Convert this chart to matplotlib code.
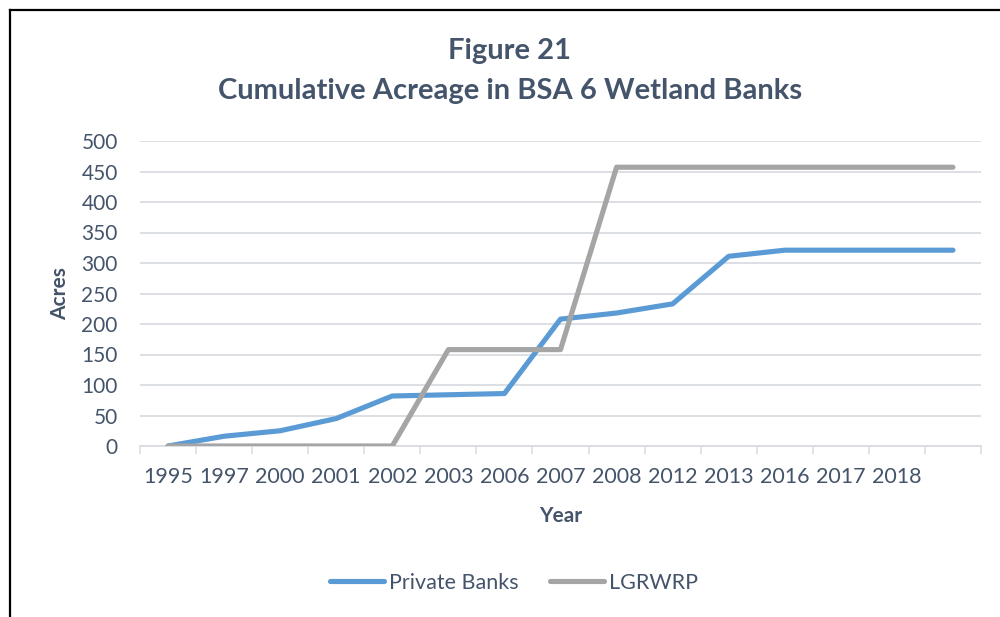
import numpy as np
import matplotlib
matplotlib.use('Agg')
import matplotlib.pyplot as plt
from matplotlib.lines import Line2D

# Cumulative acreage per year (last category has no label)
years = ['1995', '1997', '2000', '2001', '2002', '2003', '2006', '2007',
         '2008', '2012', '2013', '2016', '2017', '2018', '']
private_banks = [0, 16, 25, 45, 82, 84, 86, 208, 218, 233, 311, 321, 321,
                 321, 321]
lgrwrp = [0, 0, 0, 0, 0, 158, 158, 158, 457, 457, 457, 457, 457, 457, 457]

txt_col = '#44546A'
grid_col = '#D9DDE3'
plt.rcParams['font.family'] = ['Lato', 'DejaVu Sans']

fig = plt.figure(figsize=(10, 6.17), dpi=100)
ax = fig.add_axes([0.14, 1 - 446 / 617, 0.841, 305 / 617])

x = np.arange(len(years))
k_line = {'lw': 3.7, 'solid_capstyle': 'round', 'solid_joinstyle': 'round'}
ax.plot(x, private_banks, color='#5B9BD5', label='Private Banks', zorder=3,
        **k_line)
ax.plot(x, lgrwrp, color='#A5A5A5', label='LGRWRP', zorder=3, **k_line)

# Axes setup
ax.set_xlim(-0.5, len(years) - 0.5)
ax.set_ylim(0, 500)
ax.set_yticks(np.arange(0, 501, 50))
ax.set_xticks(x)
ax.set_xticklabels(years)
ax.set_xticks(np.arange(-0.5, len(years), 1), minor=True)
ax.tick_params(axis='x', which='major', length=0, pad=15, labelsize=15.5,
               labelcolor=txt_col)
ax.tick_params(axis='x', which='minor', length=6, width=1.2, color=grid_col)
ax.tick_params(axis='y', length=0, pad=16, labelsize=15, labelcolor=txt_col)
ax.grid(axis='y', color=grid_col, lw=1.3)
ax.set_axisbelow(True)
for s in ['top', 'right', 'left']:
    ax.spines[s].set_visible(False)
ax.spines['bottom'].set_color(grid_col)
ax.spines['bottom'].set_linewidth(1.3)

ax.set_ylabel('Acres', fontsize=15, fontweight='bold', color=txt_col,
              labelpad=8)
ax.set_xlabel('Year', fontsize=15, fontweight='bold', color=txt_col,
              labelpad=14)

# Title
fig.text(0.51, 1 - 51 / 617, 'Figure 21', ha='center', va='center',
         fontsize=21, fontweight='bold', color=txt_col)
fig.text(0.51, 1 - 91 / 617, 'Cumulative Acreage in BSA 6 Wetland Banks',
         ha='center', va='center', fontsize=21, fontweight='bold',
         color=txt_col)

# Legend
leg = fig.legend(loc='center', bbox_to_anchor=(0.514, 1 - 583 / 617),
                 ncol=2, frameon=False, fontsize=15.5, handlelength=2.5,
                 handletextpad=0.2, columnspacing=1.5)
for t in leg.get_texts():
    t.set_color(txt_col)

# Frame around the chart
fig.add_artist(Line2D([0.01, 1.0], [1 - 10 / 617, 1 - 10 / 617],
                      transform=fig.transFigure, color='k', lw=1.6))
fig.add_artist(Line2D([0.01, 0.01], [0, 1 - 10 / 617],
                      transform=fig.transFigure, color='k', lw=1.6))

plt.savefig('out.png', dpi=100)
